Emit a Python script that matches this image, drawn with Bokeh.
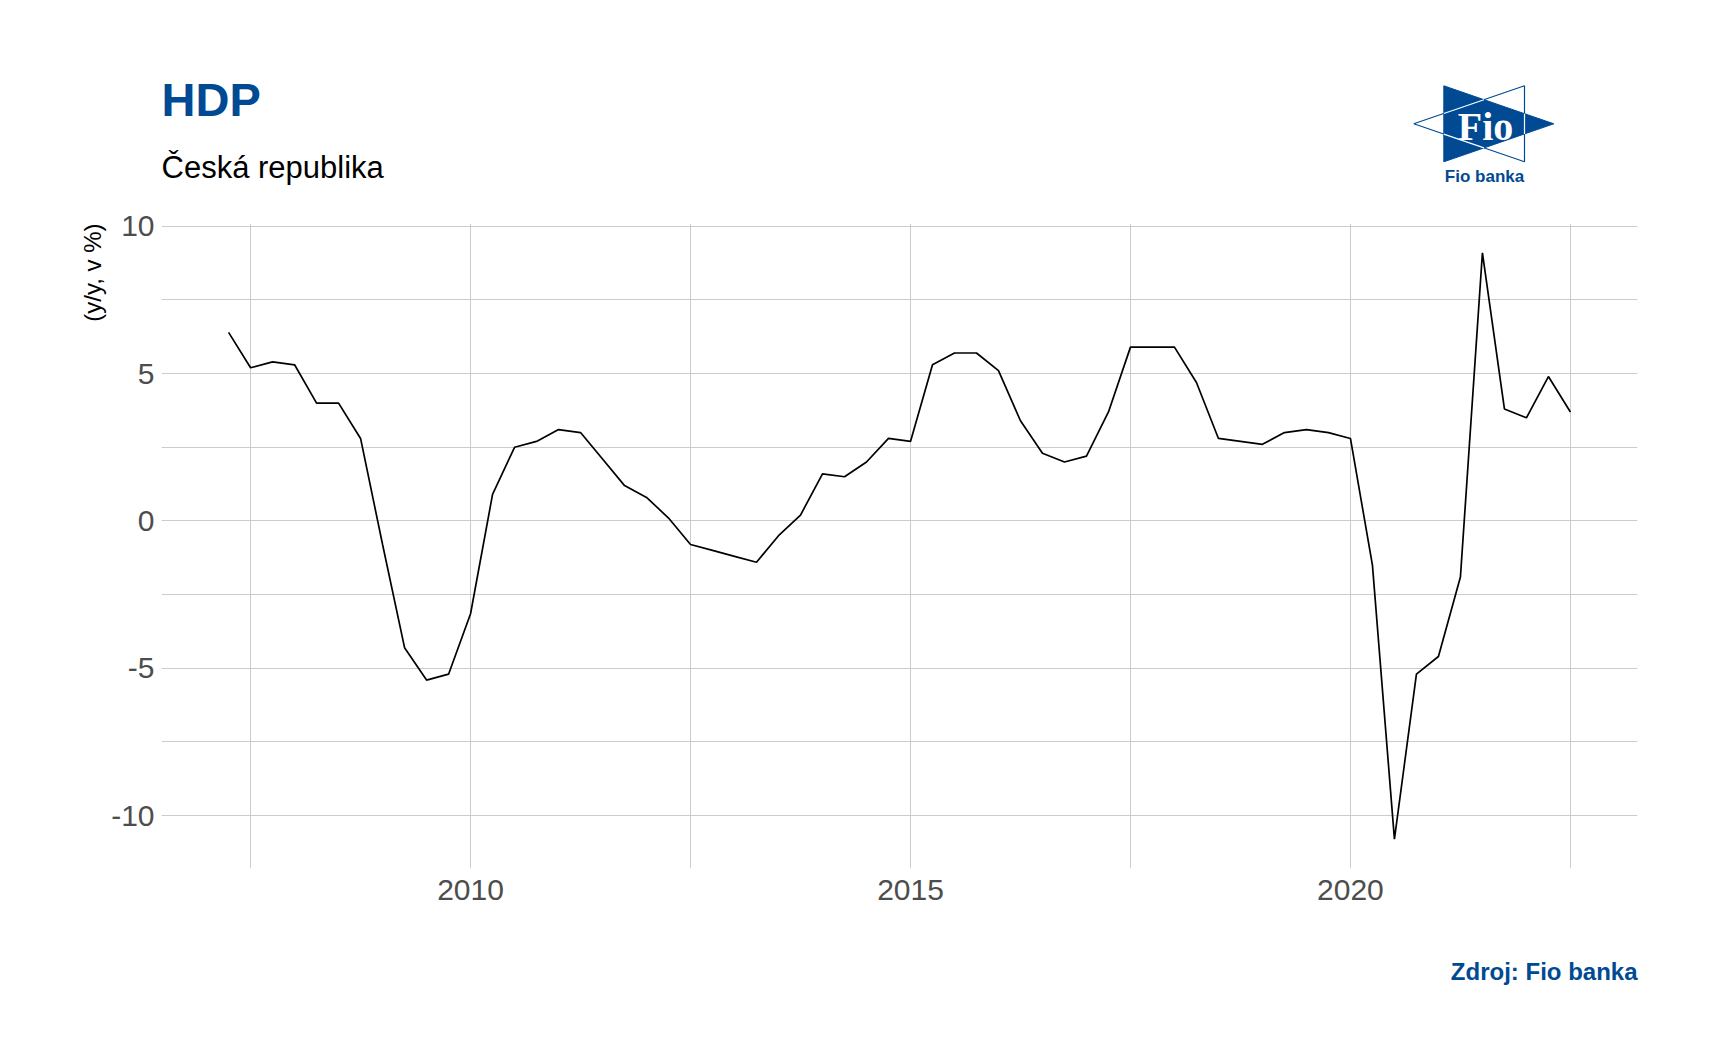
from bokeh.plotting import figure
from bokeh.models import Range1d, FixedTicker, Title, PrintfTickFormatter
from bokeh.layouts import column
from bokeh.core.properties import value
from bokeh.embed import file_html
from bokeh.resources import INLINE

# ---------------- data ----------------
first_year = 2007
first_quarter = 2
gdp_yoy = [
    6.4, 5.2, 5.4,                 # 2007 Q2-Q4
    5.3, 4.0, 4.0, 2.8,            # 2008
    -0.8, -4.3, -5.4, -5.2,        # 2009
    -3.15, 0.9, 2.5, 2.7,          # 2010
    3.1, 3.0, 2.1, 1.2,            # 2011
    0.8, 0.1, -0.8, -1.0,          # 2012
    -1.2, -1.4, -0.5, 0.2,         # 2013
    1.6, 1.5, 2.0, 2.8,            # 2014
    2.7, 5.3, 5.7, 5.7,            # 2015
    5.1, 3.4, 2.3, 2.0,            # 2016
    2.2, 3.7, 5.9, 5.9,            # 2017
    5.9, 4.7, 2.8, 2.7,            # 2018
    2.6, 3.0, 3.1, 3.0,            # 2019
    2.8, -1.5, -10.8, -5.2,        # 2020
    -4.6, -1.9, 9.1, 3.8,          # 2021
    3.5, 4.9, 3.7,                 # 2022 Q1-Q3
]
x_ticks = [2010, 2015, 2020]
x_minor_ticks = [2007.5, 2012.5, 2017.5, 2022.5]
y_ticks = [-10, -5, 0, 5, 10]
y_minor_ticks = [-7.5, -2.5, 2.5, 7.5]
title_text = "HDP"
subtitle_text = "Česká republika"
y_label_text = "(y/y, v %)"
source_text = "Zdroj: Fio banka"
logo_text = "Fio"
logo_caption = "Fio banka"

quarter_x = [first_year + (first_quarter - 1 + i) / 4 for i in range(len(gdp_yoy))]

# ---------------- styles ----------------
BLUE = "#004A93"
GRID = "#CCCCCC"
TICK = "#4D4D4D"
FONT = "Liberation Sans"
W = 1718
H_TOP, H_MAIN, H_BOTTOM = 195, 735, 134
BASE_SHIFT = 0.37  # empirical baseline correction (fraction of font size)

xpad = 0.05 * (max(quarter_x) - min(quarter_x))
ypad = 0.05 * (max(gdp_yoy) - min(gdp_yoy))


def blank(height, y_top, y_bottom):
    f = figure(width=W, height=height, x_range=Range1d(0, W),
               y_range=Range1d(y_bottom, y_top), x_axis_type=None, y_axis_type=None,
               min_border=0, min_border_left=0, min_border_right=0,
               min_border_top=0, min_border_bottom=0, title=None, frame_align=False,
               output_backend="svg", toolbar_location=None)
    f.grid.visible = False
    f.outline_line_color = None
    f.background_fill_color = "white"
    f.border_fill_color = "white"
    return f


def put_text(fig, x, y, txt, size, color, bold=False, align="left", font=FONT):
    fig.text(x=[x], y=[y - BASE_SHIFT * size], text=[txt], text_align=align,
             text_baseline="alphabetic", text_font=value(font),
             text_font_style="bold" if bold else "normal",
             text_font_size=f"{size}px", text_color=color)


# ---------------- header (page pixel coordinates) ----------------
top = blank(H_TOP, 0, H_TOP)
put_text(top, 161, 116, title_text, 47, BLUE, bold=True)
put_text(top, 161, 178, subtitle_text, 31, "black")

# logo
tri_a_x = [1443.3, 1443.3, 1553.3]
tri_a_y = [85.3, 161.3, 123.3]
tri_b_x = [1524.0, 1524.0, 1413.3]
tri_b_y = [85.3, 161.3, 123.3]
top.patch(tri_b_x, tri_b_y, fill_color="white", line_color=BLUE, line_width=1.2)
top.patch(tri_a_x, tri_a_y, fill_color=BLUE, line_color=BLUE, line_width=1)
top.multi_line([[1443.3, 1483.5], [1443.3, 1483.5], [1524, 1524]],
               [[113.0, 99.2], [133.6, 147.4], [113.2, 133.4]],
               line_color="white", line_width=1.2)
put_text(top, 1485, 141, logo_text, 40, "white", bold=True, align="center", font="Liberation Serif")
put_text(top, 1484, 182.5, logo_caption, 17, BLUE, bold=True, align="center")

# ---------------- main chart ----------------
p = figure(width=W, height=H_MAIN,
           x_range=Range1d(min(quarter_x) - xpad, max(quarter_x) + xpad),
           y_range=Range1d(min(gdp_yoy) - ypad, max(gdp_yoy) + ypad),
           min_border_left=161, min_border_right=81, min_border_top=28, min_border_bottom=62,
           title=None, frame_align=False, output_backend="svg", toolbar_location=None)
p.outline_line_color = None
p.background_fill_color = "white"
p.border_fill_color = "white"

p.line(quarter_x, gdp_yoy, line_color="black", line_width=1.7)

p.xaxis.ticker = FixedTicker(ticks=x_ticks, minor_ticks=x_minor_ticks)
p.yaxis.ticker = FixedTicker(ticks=y_ticks, minor_ticks=y_minor_ticks)
p.xaxis.formatter = PrintfTickFormatter(format="%d")
p.yaxis.formatter = PrintfTickFormatter(format="%d")
for ax in (p.xaxis[0], p.yaxis[0]):
    ax.axis_line_color = None
    ax.major_tick_line_color = None
    ax.minor_tick_line_color = None
    ax.major_label_text_font = FONT
    ax.major_label_text_font_size = "30px"
    ax.major_label_text_color = TICK
p.xaxis.major_label_standoff = 5
p.yaxis.major_label_standoff = 1
for g in (p.xgrid[0], p.ygrid[0]):
    g.grid_line_color = GRID
    g.grid_line_width = 1
    g.minor_grid_line_color = GRID
    g.minor_grid_line_width = 1

p.add_layout(Title(text=y_label_text, align="right", offset=0, standoff=6,
                   text_font=FONT, text_font_size="24px", text_font_style="normal",
                   text_color="black"), "left")

# ---------------- footer (page pixel coordinates) ----------------
bottom = blank(H_BOTTOM, H_TOP + H_MAIN, H_TOP + H_MAIN + H_BOTTOM)
put_text(bottom, 1637, 980, source_text, 24, BLUE, bold=True, align="right")

layout = column(top, p, bottom, spacing=0)
open("out.html", "w").write(file_html(layout, INLINE))
